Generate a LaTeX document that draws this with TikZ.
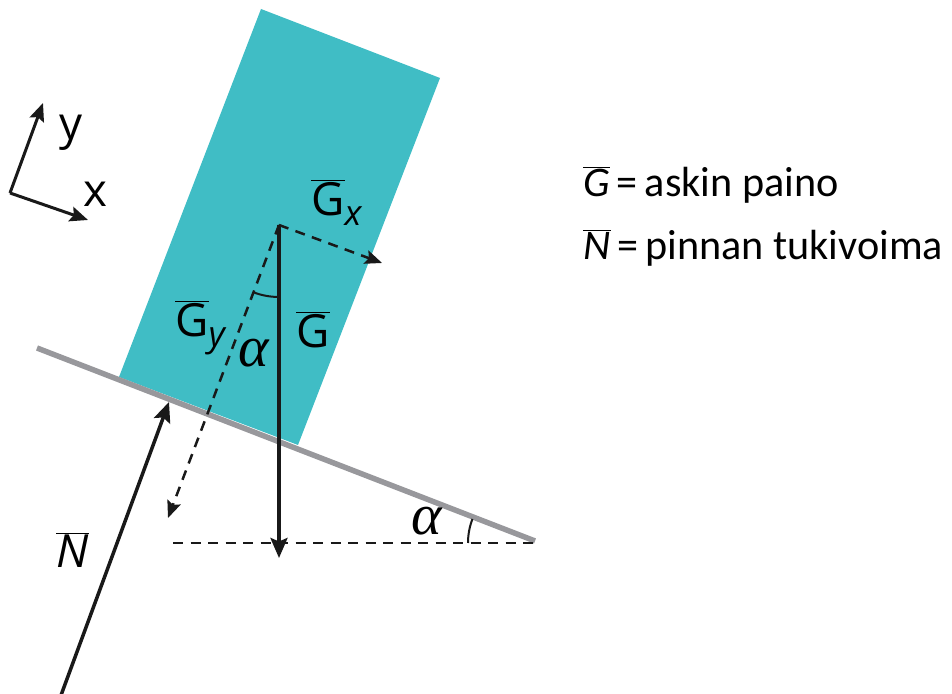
\documentclass[tikz,border=0pt]{standalone}
\usepackage{fontspec}
\setmainfont{Carlito}
\newfontfamily\lblfont{Open Sans}
\newfontfamily\grkfont{Liberation Serif}
\usetikzlibrary{arrows.meta,calc}
\definecolor{boxteal}{HTML}{40BDC5}
\definecolor{slopegray}{HTML}{98989C}
\newcommand{\vbar}[1]{$\overline{\mbox{#1}}$}
\newcommand{\low}[1]{\raisebox{-2mm}{\fontsize{20}{20}\selectfont\itshape #1}}

\begin{document}
\begin{tikzpicture}[x=0.2mm, y=0.2mm,
  arr/.style={-{Stealth[length=4mm, width=3.4mm, inset=0.7mm]}, line width=0.7mm, black!90},
  darr/.style={-{Stealth[length=3.4mm, width=2.8mm, inset=0.6mm]}, line width=0.5mm, dash pattern=on 2mm off 1.5mm, black!90},
  axarr/.style={-{Stealth[length=3.6mm, width=3mm, inset=0.6mm]}, line width=0.6mm, black!90},
  lbl/.style={inner sep=0pt, anchor=base west, font=\lblfont\fontsize{26}{30}\selectfont},
  ang/.style={inner sep=0pt, anchor=base west, font=\grkfont\itshape\fontsize{33}{35}\selectfont},
  legend/.style={inner sep=0pt, anchor=base west, font=\fontsize{24}{28}\selectfont}
]
\useasboundingbox (0,0) rectangle (952,694);

% block on the slope
\coordinate (bl) at (119,317);
\coordinate (tl) at (261,685);
\coordinate (tr) at (440,616);
\coordinate (br) at (298,249);
\fill[boxteal] (bl) -- (tl) -- (tr) -- (br) -- cycle;

% slope and horizontal
\coordinate (sl) at (37,346);
\coordinate (sr) at (535,153);
\coordinate (hl) at (173,151);
\coordinate (hr) at (535,151);
\draw[slopegray, line width=1.1mm] (sl) -- (sr);
\draw[line width=0.45mm, dash pattern=on 2mm off 1.5mm, black!90] (hl) -- (hr);

% forces
\coordinate (cg) at (279,469);
\coordinate (gtip) at (279,136);
\coordinate (gx) at (382,431);
\coordinate (gy) at (168,176);
\coordinate (ntail) at (60,-4);
\coordinate (ntip) at (169,292);
\draw[arr] (cg) -- (gtip);
\draw[darr] (cg) -- (gx);
\draw[darr] (cg) -- (gy);
\draw[arr] (ntail) -- (ntip);

% angles
\draw[line width=0.4mm, black!90] (cg) ++(249:14.4mm) arc[start angle=249, end angle=270, radius=14.4mm];
\draw[line width=0.4mm, black!90] (hr) ++(159:13.4mm) arc[start angle=159, end angle=180, radius=13.4mm];

% axes
\coordinate (orig) at (10,501);
\coordinate (ax) at (88,474);
\coordinate (ay) at (43,591);
\draw[axarr] (orig) -- (ax);
\draw[axarr] (orig) -- (ay);
\node[lbl, font=\lblfont\fontsize{26}{28}\selectfont] (xlbl) at (83,487) {x};
\node[lbl, font=\lblfont\fontsize{26}{28}\selectfont] (ylbl) at (59,554) {y};

% labels
\node[lbl] (gxlbl) at (311,478) {\vbar{G}\low{x}};
\node[lbl] (gylbl) at (175,357) {\vbar{G}\low{y}};
\node[lbl] (glbl) at (296,346) {\vbar{G}};
\node[lbl] (nlbl) at (56,126) {\vbar{\itshape N}};
\node[ang] (a1) at (238,327) {α};
\node[ang] (a2) at (411,159) {α};

% legend
\node[legend] (leg1) at (583,497) {\vbar{\itshape G}\,=\,askin paino};
\node[legend] (leg2) at (583,434) {\vbar{\itshape N}\,=\,pinnan tukivoima};
\end{tikzpicture}
\end{document}
